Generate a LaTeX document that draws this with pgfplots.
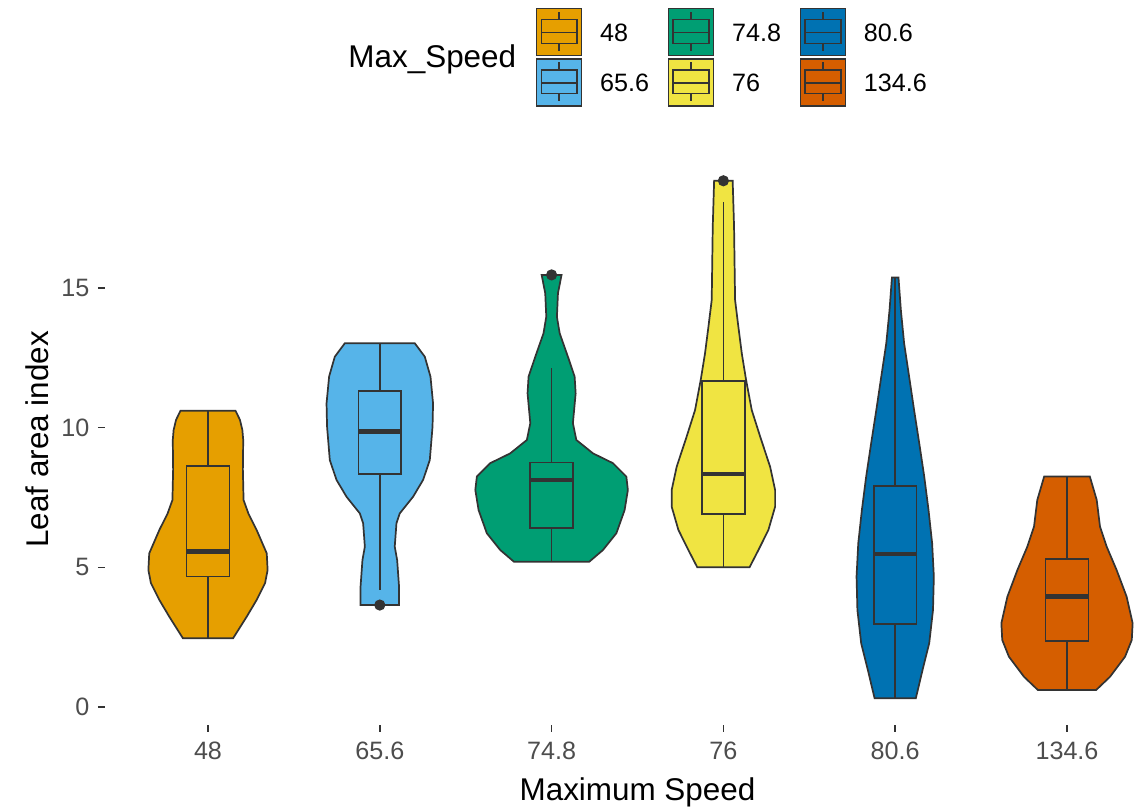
\documentclass[border=0pt]{standalone}
\usepackage{fontspec}
\setmainfont{Liberation Sans}
\usepackage{pgfplots}
\usepackage{pgfplotstable}
\pgfplotsset{compat=1.18}
\definecolor{cA}{HTML}{E69F00}
\definecolor{cB}{HTML}{56B4E9}
\definecolor{cC}{HTML}{009E73}
\definecolor{cD}{HTML}{F0E442}
\definecolor{cE}{HTML}{0072B2}
\definecolor{cF}{HTML}{D55E00}
\definecolor{gray20}{HTML}{333333}
\definecolor{gray30}{HTML}{4D4D4D}

% violin outlines: value y, signed half-width w (category units);
% right side bottom->top, then left side top->bottom
\pgfplotstableread{
y w
2.46 0.146
3.23 0.225
3.83 0.283
4.43 0.332
4.90 0.347
5.50 0.342
6.34 0.283
6.93 0.235
7.41 0.207
8.50 0.203
9.56 0.205
9.92 0.200
10.28 0.186
10.61 0.160
10.61 -0.160
10.28 -0.186
9.92 -0.200
9.56 -0.205
8.50 -0.203
7.41 -0.207
6.93 -0.235
6.34 -0.283
5.50 -0.342
4.90 -0.347
4.43 -0.332
3.83 -0.283
3.23 -0.225
2.46 -0.146
}\vA
\pgfplotstableread{
y w
3.65 0.112
4.31 0.112
5.26 0.101
5.74 0.087
6.58 0.097
6.93 0.116
7.53 0.194
8.13 0.252
8.84 0.291
10.04 0.307
10.87 0.310
11.83 0.295
12.54 0.262
13.02 0.204
13.02 -0.204
12.54 -0.262
11.83 -0.295
10.87 -0.310
10.04 -0.307
8.84 -0.291
8.13 -0.252
7.53 -0.194
6.93 -0.116
6.58 -0.097
5.74 -0.087
5.26 -0.101
4.31 -0.112
3.65 -0.112
}\vB
\pgfplotstableread{
y w
5.20 0.219
5.62 0.299
6.22 0.377
7.05 0.425
7.77 0.444
8.25 0.435
8.73 0.357
9.08 0.241
9.56 0.144
10.16 0.124
11.23 0.140
11.83 0.134
12.54 0.095
13.38 0.047
13.97 0.031
14.81 0.037
15.47 0.058
15.47 -0.058
14.81 -0.037
13.97 -0.031
13.38 -0.047
12.54 -0.095
11.83 -0.134
11.23 -0.140
10.16 -0.124
9.56 -0.144
9.08 -0.241
8.73 -0.357
8.25 -0.435
7.77 -0.444
7.05 -0.425
6.22 -0.377
5.62 -0.299
5.20 -0.219
}\vC
\pgfplotstableread{
y w
5.00 0.152
5.62 0.204
6.34 0.262
7.17 0.301
7.77 0.301
8.60 0.272
9.68 0.214
10.63 0.165
11.71 0.132
12.66 0.107
13.62 0.087
14.57 0.068
17.20 0.062
18.84 0.054
18.84 -0.054
17.20 -0.062
14.57 -0.068
13.62 -0.087
12.66 -0.107
11.71 -0.132
10.63 -0.165
9.68 -0.214
8.60 -0.272
7.77 -0.301
7.17 -0.301
6.34 -0.262
5.62 -0.204
5.00 -0.152
}\vD
\pgfplotstableread{
y w
0.31 0.120
1.32 0.159
2.28 0.198
3.47 0.220
4.67 0.225
5.86 0.215
7.05 0.194
8.25 0.169
9.44 0.140
10.63 0.110
11.83 0.081
13.02 0.052
14.21 0.033
15.38 0.019
15.38 -0.019
14.21 -0.033
13.02 -0.052
11.83 -0.081
10.63 -0.110
9.44 -0.140
8.25 -0.169
7.05 -0.194
5.86 -0.215
4.67 -0.225
3.47 -0.220
2.28 -0.198
1.32 -0.159
0.31 -0.120
}\vE
\pgfplotstableread{
y w
0.61 0.170
1.08 0.250
1.80 0.338
2.40 0.377
3.00 0.382
3.95 0.347
4.90 0.289
5.74 0.231
6.46 0.192
7.41 0.173
8.25 0.133
8.25 -0.133
7.41 -0.173
6.46 -0.192
5.74 -0.231
4.90 -0.289
3.95 -0.347
3.00 -0.382
2.40 -0.377
1.80 -0.338
1.08 -0.250
0.61 -0.170
}\vF

\begin{document}
\begin{tikzpicture}
\begin{axis}[
  x=60.13pt, y=9.7755pt,
  xmin=0.4, xmax=6.6, ymin=-0.63, ymax=19.8,
  clip=false,
  axis line style={draw=none},
  tick align=outside, major tick length=2.45pt,
  tick style={color=gray20, line width=0.5pt},
  xtick pos=left, ytick pos=left,
  minor tick num=0,
  xtick={1,2,3,4,5,6}, xticklabels={48,65.6,74.8,76,80.6,134.6},
  ytick={0,5,10,15},
  /pgf/number format/assume math mode=true,
  ticklabel style={font=\fontsize{8.8}{10}\selectfont, text=gray30, inner sep=0pt},
  xticklabel shift=3.3pt, yticklabel shift=2.8pt,
  xlabel={Maximum Speed}, ylabel={Leaf area index},
  label style={font=\fontsize{11}{13}\selectfont, text=black, inner sep=0pt},
  xlabel style={at={(axis description cs:0.5,-0.1339)}, anchor=base},
  ylabel style={at={(axis description cs:-0.0525,0.5)}, anchor=base},
  legend image code/.code={
    \draw[#1, draw=gray20, line width=0.5pt] (0pt,-5.08pt) rectangle (15.75pt,11.38pt);
    \draw[draw=gray20, fill=none, line width=0.5pt] (1.6pt,-0.73pt) rectangle (14.15pt,7.5pt);
    \draw[draw=gray20, fill=none, line width=0.5pt] (1.6pt,3.04pt) -- (14.15pt,3.04pt);
    \draw[draw=gray20, fill=none, line width=0.5pt] (7.875pt,7.5pt) -- (7.875pt,10.21pt) (7.875pt,-0.73pt) -- (7.875pt,-3.31pt);
  },
  legend columns=3,
  legend cell align=left,
  legend style={at={(0.4047,1.2559)}, anchor=north west, draw=none, fill=none,
    inner sep=0pt, outer sep=0pt, row sep=0.7pt,
    font=\fontsize{8.8}{10}\selectfont,
    nodes={inner sep=0pt, anchor=base west},
    /tikz/every odd column/.style={column sep=6.2pt},
    /tikz/every even column/.style={column sep=6.6pt}},
  vio/.style={draw=gray20, line width=0.6pt, forget plot},
  bx/.style={draw=gray20, line width=0.55pt, forget plot, mark=none},
  med/.style={draw=gray20, line width=1.6pt, forget plot, mark=none},
]
% violins
\addplot[vio, fill=cA] table[x expr=1+\thisrow{w}, y=y] {\vA} --cycle;
\addplot[vio, fill=cB] table[x expr=2+\thisrow{w}, y=y] {\vB} --cycle;
\addplot[vio, fill=cC] table[x expr=3+\thisrow{w}, y=y] {\vC} --cycle;
\addplot[vio, fill=cD] table[x expr=4+\thisrow{w}, y=y] {\vD} --cycle;
\addplot[vio, fill=cE] table[x expr=5+\thisrow{w}, y=y] {\vE} --cycle;
\addplot[vio, fill=cF] table[x expr=6+\thisrow{w}, y=y] {\vF} --cycle;
% boxes (q1, q3)
\addplot[bx] coordinates {(0.875,4.67) (1.125,4.67) (1.125,8.63) (0.875,8.63)} --cycle;
\addplot[bx] coordinates {(1.875,8.34) (2.125,8.34) (2.125,11.31) (1.875,11.31)} --cycle;
\addplot[bx] coordinates {(2.875,6.40) (3.125,6.40) (3.125,8.76) (2.875,8.76)} --cycle;
\addplot[bx] coordinates {(3.875,6.91) (4.125,6.91) (4.125,11.67) (3.875,11.67)} --cycle;
\addplot[bx] coordinates {(4.875,2.97) (5.125,2.97) (5.125,7.92) (4.875,7.92)} --cycle;
\addplot[bx] coordinates {(5.875,2.37) (6.125,2.37) (6.125,5.29) (5.875,5.29)} --cycle;
% whiskers
\addplot[bx] coordinates {(1,8.63) (1,10.61)};
\addplot[bx] coordinates {(1,2.46) (1,4.67)};
\addplot[bx] coordinates {(2,11.31) (2,13.02)};
\addplot[bx] coordinates {(2,4.19) (2,8.34)};
\addplot[bx] coordinates {(3,8.76) (3,12.13)};
\addplot[bx] coordinates {(3,5.20) (3,6.40)};
\addplot[bx] coordinates {(4,11.67) (4,18.09)};
\addplot[bx] coordinates {(4,5.00) (4,6.91)};
\addplot[bx] coordinates {(5,7.92) (5,15.38)};
\addplot[bx] coordinates {(5,0.31) (5,2.97)};
\addplot[bx] coordinates {(6,5.29) (6,8.25)};
\addplot[bx] coordinates {(6,0.61) (6,2.37)};
% medians
\addplot[med] coordinates {(0.875,5.56) (1.125,5.56)};
\addplot[med] coordinates {(1.875,9.86) (2.125,9.86)};
\addplot[med] coordinates {(2.875,8.13) (3.125,8.13)};
\addplot[med] coordinates {(3.875,8.34) (4.125,8.34)};
\addplot[med] coordinates {(4.875,5.47) (5.125,5.47)};
\addplot[med] coordinates {(5.875,3.95) (6.125,3.95)};
% outliers
\addplot[only marks, mark=*, mark size=1.75pt, mark options={fill=gray20, draw=gray20}, forget plot]
  coordinates {(2,3.65) (3,15.47) (4,18.84)};
% legend (row-major order for 3 columns)
\addlegendimage{fill=cA}\addlegendentry{48}
\addlegendimage{fill=cC}\addlegendentry{74.8}
\addlegendimage{fill=cE}\addlegendentry{80.6}
\addlegendimage{fill=cB}\addlegendentry{65.6}
\addlegendimage{fill=cD}\addlegendentry{76}
\addlegendimage{fill=cF}\addlegendentry{134.6}
\node[anchor=base west, font=\fontsize{11}{13}\selectfont, inner sep=0pt] at (rel axis cs:0.2281,1.1507) {Max\_Speed};
\coordinate (O) at (axis cs:1,0);
\end{axis}
\pgfresetboundingbox
\useasboundingbox ([shift={(-72.8pt,-35pt)}]O) rectangle ([shift={(326.55pt,247.45pt)}]O);
\end{tikzpicture}
\end{document}
